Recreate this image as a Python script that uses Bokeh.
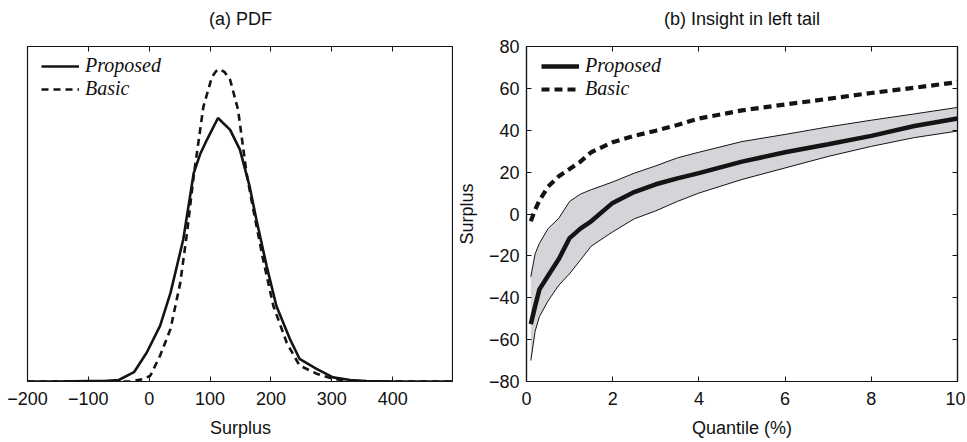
from bokeh.plotting import figure
from bokeh.layouts import row
from bokeh.models import Range1d, FixedTicker, LinearAxis, Legend, LegendItem
from bokeh.embed import file_html
from bokeh.resources import INLINE

# ---------------- data: panel (a) PDF ----------------
surplus_proposed = [-200, -150, -100, -75, -50, -25, -4, 18, 35, 56, 73, 84, 95, 113,
                    133, 149, 165, 176, 193, 209, 231, 247, 275, 302, 330, 357, 400, 450, 500]
pdf_proposed = [0, 0, 0.00001, 0.00001, 0.00004, 0.00025, 0.00078, 0.0015, 0.00238, 0.00382,
                0.00559, 0.00612, 0.0065, 0.00708, 0.00676, 0.00623, 0.00524, 0.00436, 0.0031,
                0.00203, 0.00115, 0.00061, 0.00034, 0.00011, 0.00004, 0.00001, 0, 0, 0]
surplus_basic = [-200, -100, -30, -9, 2, 18, 35, 51, 62, 73, 89, 103, 110, 116, 124, 133,
                 146, 160, 171, 187, 204, 226, 247, 275, 302, 330, 400, 500]
pdf_basic = [0, 0, 0, 0.00007, 0.00016, 0.0007, 0.00141, 0.00265, 0.00398, 0.00551, 0.00738,
             0.00818, 0.00834, 0.00839, 0.00831, 0.0081, 0.0073, 0.00559, 0.00462, 0.00329,
             0.00203, 0.00104, 0.00043, 0.00021, 0.00007, 0.00001, 0, 0]
x_ticks_a = [-200, -100, 0, 100, 200, 300, 400]

# ---------------- data: panel (b) left tail ----------------
quantile = [0.1, 0.2, 0.3, 0.5, 0.75, 1.0, 1.25, 1.5, 2, 2.5, 3, 3.5, 4, 5, 6, 7, 8, 9, 10]
proposed_median = [-52.6, -44, -36, -29.5, -21.5, -11.5, -7, -3.5, 5.3, 10.5, 14.2, 17, 19.5,
                   25, 29.5, 33.3, 37.3, 42, 45.6]
proposed_upper = [-30, -19, -14, -7, -2, 6, 9.5, 11.6, 15.3, 19.5, 23, 26.8, 29.5, 34.6, 38,
                  41.6, 44.8, 47.8, 50.9]
proposed_lower = [-70, -56, -49, -41.5, -34, -28.5, -22, -15.4, -8.5, -2.3, 1.5, 6, 10, 16.5,
                  22, 27.5, 32.3, 36.5, 39.6]
basic_quantile = [-3.5, 2, 6.5, 13, 18, 21.5, 25, 29.5, 34.3, 37.3, 39.8, 42.5, 45.6, 49.5,
                  52.3, 55, 57.8, 60.3, 63]
x_ticks_b = [0, 2, 4, 6, 8, 10]
y_ticks_b = [-80, -60, -40, -20, 0, 20, 40, 60, 80]

SANS = "Liberation Sans"
SERIF = "Liberation Serif"
FS = "18px"
INK = "#141414"


def minus(v):
    return str(v).replace("-", "\u2212")


def style_axis(ax, ticks, show_labels=True):
    ax.ticker = FixedTicker(ticks=ticks)
    ax.minor_tick_line_color = None
    ax.major_tick_in = 5
    ax.major_tick_out = 0
    ax.major_tick_line_color = INK
    ax.axis_line_color = INK
    ax.axis_line_width = 1.2
    ax.major_label_text_font = SANS
    if show_labels:
        ax.major_label_overrides = {t: minus(t) for t in ticks}
        ax.major_label_text_color = "#111111"
        ax.major_label_text_font_size = FS
        ax.major_label_standoff = 10
    else:
        ax.major_label_text_color = None
        ax.major_label_text_font_size = "0px"
        ax.major_label_standoff = 0
    ax.axis_label_text_font = SANS
    ax.axis_label_text_font_size = FS
    ax.axis_label_text_font_style = "normal"
    ax.axis_label_text_color = "#111111"


def style_fig(p):
    p.grid.visible = False
    p.outline_line_color = INK
    p.outline_line_width = 1.2
    p.background_fill_color = "white"
    p.border_fill_color = "white"


def style_legend(leg, loc):
    leg.location = loc
    leg.border_line_color = None
    leg.background_fill_alpha = 0
    leg.label_text_font = SERIF
    leg.label_text_font_style = "italic"
    leg.label_text_font_size = "20px"
    leg.label_text_color = "#111111"
    leg.glyph_width = 38
    leg.glyph_height = 22
    leg.label_height = 22
    leg.label_standoff = 6
    leg.spacing = 0
    leg.padding = 0
    leg.margin = 0


def top_axis(p, ticks, title):
    ax = LinearAxis()
    style_axis(ax, ticks, show_labels=False)
    ax.axis_label = title
    ax.axis_label_standoff = 18
    p.add_layout(ax, "above")
    return ax


# ---------------- panel (a) ----------------
pa = figure(width=453, height=440, output_backend="svg", toolbar_location=None,
            x_range=Range1d(-200, 500), y_range=Range1d(0, 0.009),
            min_border_left=27, min_border_right=0, min_border_top=46, min_border_bottom=58)
style_fig(pa)
style_axis(pa.xaxis[0], x_ticks_a)
pa.xaxis.axis_label = "Surplus"
pa.xaxis.axis_label_standoff = 10
pa.yaxis.visible = False
top_axis(pa, x_ticks_a, "(a) PDF")

ra1 = pa.line(surplus_proposed, pdf_proposed, line_color=INK, line_width=2.6)
ra2 = pa.line(surplus_basic, pdf_basic, line_color=INK, line_width=2.6, line_dash="7 5")
leg_a = Legend(items=[LegendItem(label="Proposed", renderers=[ra1]),
                      LegendItem(label="Basic", renderers=[ra2])])
style_legend(leg_a, (14, 281))
pa.add_layout(leg_a)

# ---------------- panel (b) ----------------
pb = figure(width=512, height=440, output_backend="svg", toolbar_location=None,
            x_range=Range1d(0, 10), y_range=Range1d(-80, 80),
            min_border_left=73, min_border_right=8, min_border_top=46, min_border_bottom=58)
style_fig(pb)
style_axis(pb.xaxis[0], x_ticks_b)
style_axis(pb.yaxis[0], y_ticks_b)
pb.xaxis.axis_label = "Quantile (%)"
pb.xaxis.axis_label_standoff = 10
pb.yaxis.axis_label = "Surplus"
pb.yaxis.axis_label_standoff = 9
pb.yaxis.major_label_standoff = 7
top_axis(pb, x_ticks_b, "(b) Insight in left tail")
right_b = LinearAxis()
style_axis(right_b, y_ticks_b, show_labels=False)
pb.add_layout(right_b, "right")

pb.varea(x=quantile, y1=proposed_lower, y2=proposed_upper, fill_color="#d3d5d8")
pb.line(quantile, proposed_upper, line_color=INK, line_width=1)
pb.line(quantile, proposed_lower, line_color=INK, line_width=1)
rb1 = pb.line(quantile, proposed_median, line_color=INK, line_width=4.5)
rb2 = pb.line(quantile, basic_quantile, line_color=INK, line_width=4.2, line_dash="8 5")
leg_b = Legend(items=[LegendItem(label="Proposed", renderers=[rb1]),
                      LegendItem(label="Basic", renderers=[rb2])])
style_legend(leg_b, (15, 281))
pb.add_layout(leg_b)

layout = row(pa, pb)
open("out.html", "w").write(file_html(layout, INLINE))
